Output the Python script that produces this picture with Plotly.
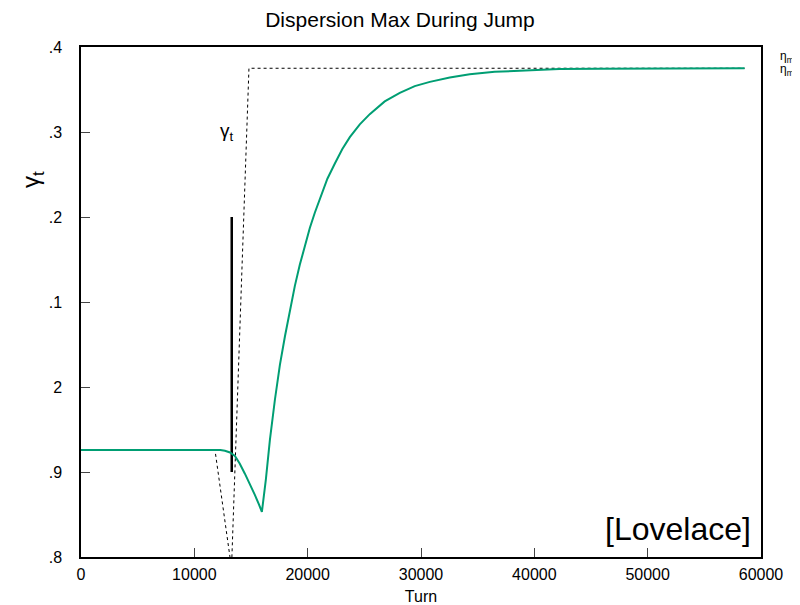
import plotly.graph_objects as go

# Green curve (dispersion max)
green_turn = [0, 11820, 12300, 12700, 13150, 13580, 14000, 14460, 14900, 15340, 15700, 15960,
              16310, 16670, 17110, 17550, 18000, 18430, 18870, 19310, 19750, 20190, 20630,
              21080, 21740, 22400, 23060, 23720, 24600, 25480, 26800, 28130, 29450, 30780,
              32540, 34300, 36500, 38710, 42200, 45770, 52000, 58550]
green_val = [21.926, 21.926, 21.926, 21.925, 21.923, 21.919, 21.910, 21.898, 21.886, 21.873,
             21.862, 21.853, 21.891, 21.938, 21.985, 22.026, 22.060, 22.091, 22.119, 22.144,
             22.167, 22.187, 22.205, 22.222, 22.245, 22.263, 22.280, 22.294, 22.309, 22.321,
             22.336, 22.346, 22.354, 22.359, 22.364, 22.368, 22.371, 22.372, 22.374, 22.3745,
             22.375, 22.375]

# Dashed gamma_t curve
gt_turn = [0, 11820, 13280, 14820, 58550]
gt_val = [21.926, 21.926, 21.787, 22.375, 22.375]

# Vertical marker
mark_turn = [13300, 13300]
mark_val = [21.9, 22.2]

ytick_vals = [21.8, 21.9, 22.0, 22.1, 22.2, 22.3, 22.4]
ytick_text = [".8", ".9", "2", ".1", ".2", ".3", ".4"]
xtick_vals = [0, 10000, 20000, 30000, 40000, 50000, 60000]
xtick_text = ["0", "10000", "20000", "30000", "40000", "50000", "60000"]

fig = go.Figure()
fig.add_trace(go.Scatter(x=gt_turn, y=gt_val, mode="lines",
                         line=dict(color="black", width=1, dash="3px,3px"), showlegend=False))
fig.add_trace(go.Scatter(x=mark_turn, y=mark_val, mode="lines",
                         line=dict(color="black", width=2.5), showlegend=False))
fig.add_trace(go.Scatter(x=green_turn, y=green_val, mode="lines",
                         line=dict(color="#009e73", width=2), showlegend=False))

W, H = 792, 597
L, R, T, B = 73, 39, 39, 48
PW, PH = W - L - R, H - T - B

font = "Liberation Sans, Arial, sans-serif"
fig.update_layout(
    width=W, height=H,
    margin=dict(l=L, r=R, t=T, b=B, autoexpand=False),
    paper_bgcolor="white", plot_bgcolor="white",
    font=dict(family=font, size=15, color="black"),
    title=dict(text="Dispersion Max During Jump", x=(400 - 8) / W, xref="container",
               xanchor="center",
               y=1 - 12 / H, yref="container", yanchor="middle", automargin=False,
               font=dict(size=21, family=font, color="black")),
    xaxis=dict(range=[0, 60000], tickvals=xtick_vals, ticktext=xtick_text,
               ticks="inside", ticklen=9, automargin=False,
               showline=True, linecolor="black", linewidth=1.5, mirror=True,
               showgrid=False, zeroline=False, ticklabelstandoff=2,
               tickfont=dict(size=16),
               title=dict(text="Turn", font=dict(size=16), standoff=10)),
    yaxis=dict(range=[21.8, 22.4], tickvals=ytick_vals, ticktext=ytick_text,
               ticks="inside", ticklen=9, automargin=False,
               showline=True, linecolor="black", linewidth=1.5, mirror=True,
               showgrid=False, zeroline=False, ticklabelstandoff=14,
               tickfont=dict(size=16)),
    annotations=[
        dict(text="γ<sub>t</sub>", x=(27 - L) / PW, y=(PH + T - 172) / PH,
             xref="paper", yref="paper", xanchor="center", yanchor="middle",
             xshift=-2, yshift=0,
             showarrow=False, textangle=-90, font=dict(size=24)),
        dict(text="γ<sub>t</sub>", x=13700, y=22.3, xref="x", yref="y", xanchor="right",
             yanchor="middle", showarrow=False, font=dict(size=19)),
        dict(text="[Lovelace]", x=60000, y=21.8, xref="x", yref="y", xanchor="right",
             yanchor="bottom", xshift=-8, yshift=8, showarrow=False, font=dict(size=32)),
        dict(text="η<sub>max</sub>", x=1, y=22.4, xref="paper", yref="y", xanchor="left",
             yanchor="middle", xshift=17, yshift=-10, showarrow=False, font=dict(size=12)),
        dict(text="η<sub>max</sub>", x=1, y=22.4, xref="paper", yref="y", xanchor="left",
             yanchor="middle", xshift=17, yshift=-23, showarrow=False, font=dict(size=12)),
    ],
)

fig.write_html("out.html")
